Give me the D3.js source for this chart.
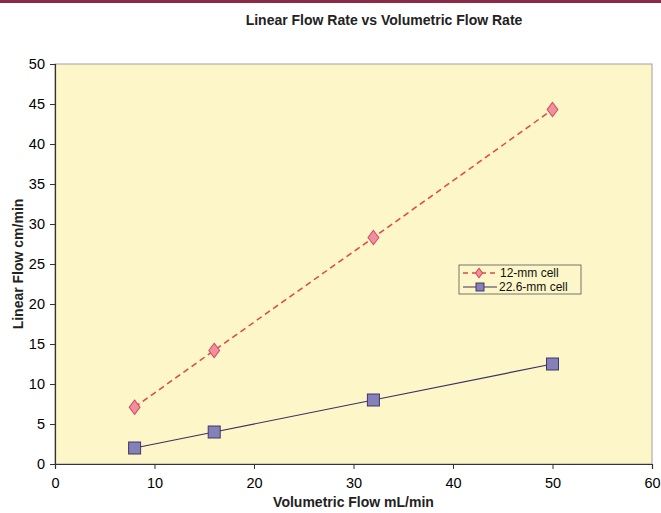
<!DOCTYPE html>
<html>
<head>
<meta charset="utf-8">
<script src="https://cdn.jsdelivr.net/npm/d3@7"></script>
<style>
  body { margin: 0; background: #fff; }
  text { font-family: "Liberation Sans", Arial, sans-serif; }
</style>
</head>
<body>
<div id="chart"></div>
<script>
// Data
const flowRates = [8, 16, 32, 50];
const cell12 = [7.1, 14.2, 28.3, 44.3];
const cell226 = [2, 4, 8, 12.5];
const xTicks = [0, 10, 20, 30, 40, 50, 60];
const yTicks = [0, 5, 10, 15, 20, 25, 30, 35, 40, 45, 50];

const width = 661, height = 513;
const margin = { left: 55, right: 9, top: 64, bottom: 49 };

const svg = d3.select("#chart").append("svg")
    .attr("width", width)
    .attr("height", height);

// top bar
svg.append("rect")
    .attr("x", 0).attr("y", 0)
    .attr("width", width).attr("height", 3)
    .attr("fill", "#8b2a45");

const xScale = d3.scaleLinear().domain([0, 60]).range([margin.left, width - margin.right]);
const yScale = d3.scaleLinear().domain([0, 50]).range([height - margin.bottom, margin.top]);

// plot area
svg.append("rect")
    .attr("x", xScale(0)).attr("y", yScale(50))
    .attr("width", xScale(60) - xScale(0))
    .attr("height", yScale(0) - yScale(50))
    .attr("fill", "#fcf6c8")
    .attr("stroke", "#a0a0a0")
    .attr("stroke-width", 1);

// axes
const xAxis = svg.append("g")
    .attr("transform", `translate(0,${yScale(0)})`)
    .call(d3.axisBottom(xScale).tickValues(xTicks).tickSize(5).tickPadding(9));
const yAxis = svg.append("g")
    .attr("transform", `translate(${xScale(0)},0)`)
    .call(d3.axisLeft(yScale).tickValues(yTicks).tickSize(5).tickPadding(5));

[xAxis, yAxis].forEach(g => {
    g.attr("font-size", null).attr("font-family", null);
    g.select(".domain").attr("stroke", "#333").attr("stroke-width", 1.2);
    g.selectAll(".tick line").attr("stroke", "#333");
    g.selectAll("text")
        .style("font-size", "14.5px")
        .style("fill", "#000")
        .style("font-family", "'Liberation Sans', Arial, sans-serif");
});

// titles
svg.append("text")
    .attr("x", 384).attr("y", 25)
    .attr("text-anchor", "middle")
    .style("font-size", "14px")
    .attr("font-weight", "bold")
    .attr("fill", "#222")
    .text("Linear Flow Rate vs Volumetric Flow Rate");

svg.append("text")
    .attr("x", (xScale(0) + xScale(60)) / 2).attr("y", 507)
    .attr("text-anchor", "middle")
    .style("font-size", "14px")
    .attr("font-weight", "bold")
    .attr("fill", "#222")
    .text("Volumetric Flow mL/min");

svg.append("text")
    .attr("transform", `translate(23,${(yScale(0) + yScale(50)) / 2}) rotate(-90)`)
    .attr("text-anchor", "middle")
    .style("font-size", "14px")
    .attr("font-weight", "bold")
    .attr("fill", "#222")
    .text("Linear Flow cm/min");

const line = d3.line()
    .x(d => xScale(d[0]))
    .y(d => yScale(d[1]));

const pts12 = flowRates.map((f, i) => [f, cell12[i]]);
const pts226 = flowRates.map((f, i) => [f, cell226[i]]);

// 12-mm series
svg.append("path")
    .attr("d", line(pts12))
    .attr("fill", "none")
    .attr("stroke", "#e0454f")
    .attr("stroke-width", 1.5)
    .attr("stroke-dasharray", "6,4");

const diamond = d3.symbol().type(d3.symbolDiamond).size(60);
svg.selectAll(".d12")
    .data(pts12)
    .enter().append("path")
    .attr("class", "d12")
    .attr("transform", d => `translate(${xScale(d[0])},${yScale(d[1])}) scale(1.3,1)`)
    .attr("d", diamond)
    .attr("fill", "#ef8fa0")
    .attr("stroke", "#d04858")
    .attr("stroke-width", 0.8);

// 22.6-mm series
svg.append("path")
    .attr("d", line(pts226))
    .attr("fill", "none")
    .attr("stroke", "#3a3060")
    .attr("stroke-width", 1.2);

const sq = 12;
svg.selectAll(".s226")
    .data(pts226)
    .enter().append("rect")
    .attr("class", "s226")
    .attr("x", d => xScale(d[0]) - sq / 2)
    .attr("y", d => yScale(d[1]) - sq / 2)
    .attr("width", sq).attr("height", sq)
    .attr("fill", "#8580b8")
    .attr("stroke", "#3e3868")
    .attr("stroke-width", 1);

// legend
const lg = svg.append("g").attr("transform", "translate(459,265)");
lg.append("rect")
    .attr("width", 122).attr("height", 29)
    .attr("fill", "#fcf6c8")
    .attr("stroke", "#555")
    .attr("stroke-width", 0.8);

lg.append("line")
    .attr("x1", 4).attr("x2", 36).attr("y1", 8).attr("y2", 8)
    .attr("stroke", "#e0454f").attr("stroke-width", 1.5)
    .attr("stroke-dasharray", "5,4");
lg.append("path")
    .attr("transform", "translate(20,8) scale(1.3,1)")
    .attr("d", d3.symbol().type(d3.symbolDiamond).size(26))
    .attr("fill", "#ef8fa0")
    .attr("stroke", "#d04858")
    .attr("stroke-width", 0.8);
lg.append("text")
    .attr("x", 41).attr("y", 12)
    .style("font-size", "12px")
    .attr("fill", "#111")
    .text("12-mm cell");

lg.append("line")
    .attr("x1", 4).attr("x2", 38).attr("y1", 22).attr("y2", 22)
    .attr("stroke", "#3a3060").attr("stroke-width", 1.2);
lg.append("rect")
    .attr("x", 17).attr("y", 18).attr("width", 8).attr("height", 8)
    .attr("fill", "#8580b8")
    .attr("stroke", "#3e3868");
lg.append("text")
    .attr("x", 40).attr("y", 26)
    .style("font-size", "12px")
    .attr("fill", "#111")
    .text("22.6-mm cell");
</script>
</body>
</html>
